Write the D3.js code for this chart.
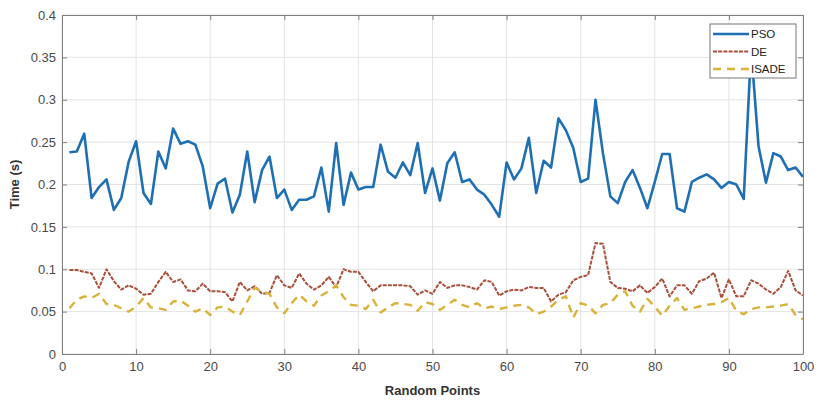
<!DOCTYPE html>
<html>
<head>
<meta charset="utf-8">
<script src="https://cdn.jsdelivr.net/npm/d3@7"></script>
<style>
  body { margin: 0; background: #fff; }
  svg { display: block; font-family: "Liberation Sans", Arial, sans-serif; }
</style>
</head>
<body>
<svg></svg>
<script>
// data (x = 1..100)
var pso = [0.238,0.239,0.260,0.184,0.197,0.206,0.170,0.184,0.227,0.251,
  0.190,0.177,0.239,0.219,0.266,0.248,0.251,0.247,0.221,0.172,
  0.201,0.207,0.167,0.188,0.239,0.179,0.217,0.233,0.184,0.194,
  0.170,0.182,0.182,0.186,0.220,0.168,0.249,0.176,0.214,0.194,
  0.197,0.197,0.247,0.215,0.208,0.226,0.211,0.249,0.190,0.219,
  0.181,0.225,0.238,0.203,0.206,0.194,0.188,0.176,0.162,0.226,
  0.206,0.219,0.255,0.190,0.228,0.220,0.278,0.264,0.243,0.203,
  0.207,0.300,0.237,0.186,0.178,0.203,0.217,0.196,0.172,0.203,
  0.236,0.236,0.172,0.168,0.203,0.208,0.212,0.206,0.196,0.203,
  0.200,0.183,0.360,0.245,0.202,0.237,0.233,0.217,0.220,0.209];

var de = [0.099,0.099,0.097,0.095,0.078,0.100,0.086,0.076,0.081,0.077,
  0.070,0.071,0.085,0.097,0.085,0.088,0.075,0.074,0.083,0.074,
  0.074,0.073,0.062,0.085,0.075,0.080,0.071,0.072,0.093,0.081,
  0.078,0.095,0.083,0.076,0.081,0.091,0.079,0.100,0.097,0.097,
  0.085,0.074,0.081,0.081,0.081,0.081,0.080,0.070,0.075,0.071,
  0.085,0.078,0.081,0.081,0.079,0.076,0.087,0.085,0.069,0.074,
  0.076,0.075,0.079,0.078,0.078,0.062,0.070,0.073,0.087,0.091,
  0.093,0.131,0.130,0.085,0.078,0.077,0.074,0.081,0.072,0.079,
  0.089,0.068,0.081,0.081,0.071,0.086,0.089,0.096,0.066,0.088,
  0.068,0.068,0.087,0.083,0.076,0.071,0.079,0.098,0.075,0.069];

var isade = [0.054,0.064,0.068,0.066,0.071,0.059,0.058,0.054,0.050,0.056,
  0.066,0.055,0.054,0.052,0.062,0.063,0.057,0.050,0.054,0.046,
  0.055,0.056,0.050,0.046,0.062,0.078,0.074,0.071,0.055,0.048,
  0.060,0.070,0.062,0.057,0.069,0.074,0.081,0.067,0.058,0.057,
  0.053,0.064,0.049,0.055,0.060,0.059,0.058,0.051,0.061,0.059,
  0.052,0.058,0.064,0.058,0.055,0.060,0.054,0.056,0.053,0.055,
  0.057,0.058,0.055,0.047,0.050,0.056,0.064,0.068,0.043,0.060,
  0.057,0.048,0.058,0.060,0.070,0.074,0.057,0.050,0.065,0.056,
  0.045,0.057,0.066,0.052,0.054,0.056,0.058,0.059,0.061,0.066,
  0.051,0.047,0.053,0.055,0.055,0.056,0.057,0.059,0.046,0.041];

var xTicks = [0,10,20,30,40,50,60,70,80,90,100];
var yTicks = [0,0.05,0.1,0.15,0.2,0.25,0.3,0.35,0.4];

var series = [
  {name: "PSO", values: pso, color: "#1f6fb5", width: 2.6, dash: null},
  {name: "DE", values: de, color: "#a9503a", width: 2, dash: "4,1.2"},
  {name: "ISADE", values: isade, color: "#d9b23a", width: 2.4, dash: "8,6"}
];

var svg = d3.select("svg")
    .attr("width", 818)
    .attr("height", 403);

var mLeft = 62, mRight = 803, mTop = 15, mBottom = 354;

var x = d3.scaleLinear().domain([0, 100]).range([mLeft, mRight]);
var y = d3.scaleLinear().domain([0, 0.4]).range([mBottom, mTop]);

// grid
var grid = svg.append("g");
grid.selectAll("line.gx")
    .data(xTicks)
    .enter()
    .append("line")
    .attr("x1", d => x(d)).attr("x2", d => x(d))
    .attr("y1", mTop).attr("y2", mBottom)
    .attr("stroke", "#e3e3e3").attr("stroke-width", 1);
grid.selectAll("line.gy")
    .data(yTicks)
    .enter()
    .append("line")
    .attr("x1", mLeft).attr("x2", mRight)
    .attr("y1", d => y(d)).attr("y2", d => y(d))
    .attr("stroke", "#e3e3e3").attr("stroke-width", 1);

// lines
var line = d3.line()
    .x((d, i) => x(i + 1))
    .y(d => y(d));

svg.append("g")
    .selectAll("path")
    .data(series)
    .enter()
    .append("path")
    .attr("d", d => line(d.values))
    .attr("fill", "none")
    .attr("stroke", d => d.color)
    .attr("stroke-width", d => d.width)
    .attr("stroke-dasharray", d => d.dash)
    .attr("stroke-linejoin", "round");

// axes (MATLAB style: inward ticks, box on)
var axisColor = "#808080";
svg.append("g")
    .attr("transform", `translate(0,${mBottom})`)
    .call(d3.axisBottom(x).tickValues(xTicks).tickSizeInner(-5).tickSizeOuter(0).tickPadding(8));
svg.append("g")
    .attr("transform", `translate(${mLeft},0)`)
    .call(d3.axisLeft(y).tickValues(yTicks).tickSizeInner(-5).tickSizeOuter(0).tickPadding(6)
      .tickFormat(d => String(+d.toFixed(2))));
svg.append("g")
    .attr("transform", `translate(0,${mTop})`)
    .call(d3.axisTop(x).tickValues(xTicks).tickSizeInner(-5).tickSizeOuter(0).tickFormat(""));
svg.append("g")
    .attr("transform", `translate(${mRight},0)`)
    .call(d3.axisRight(y).tickValues(yTicks).tickSizeInner(-5).tickSizeOuter(0).tickFormat(""));

svg.selectAll(".domain").attr("stroke", axisColor);
svg.selectAll(".tick line").attr("stroke", axisColor);
svg.selectAll(".tick text")
    .attr("fill", "#4a4a4a")
    .attr("font-size", 13)
    .attr("font-family", "Liberation Sans, Arial, sans-serif");

// axis labels
svg.append("text")
    .attr("x", (mLeft + mRight) / 2)
    .attr("y", 395)
    .attr("text-anchor", "middle")
    .attr("font-size", 13)
    .attr("font-weight", "bold")
    .attr("fill", "#333")
    .text("Random Points");

svg.append("text")
    .attr("transform", "translate(19," + ((mTop + mBottom) / 2) + ") rotate(-90)")
    .attr("text-anchor", "middle")
    .attr("font-size", 13)
    .attr("font-weight", "bold")
    .attr("fill", "#333")
    .text("Time (s)");

// legend
var legend = svg.append("g").attr("transform", "translate(710,24)");
legend.append("rect")
    .attr("width", 86).attr("height", 54)
    .attr("fill", "#fff")
    .attr("stroke", "#777").attr("stroke-width", 1);
var item = legend.selectAll("g")
    .data(series)
    .enter()
    .append("g")
    .attr("transform", (d, i) => `translate(0,${10 + i * 17.5})`);
item.append("line")
    .attr("x1", 3).attr("x2", 39)
    .attr("stroke", d => d.color)
    .attr("stroke-width", d => d.width)
    .attr("stroke-dasharray", d => d.dash);
item.append("text")
    .attr("x", 41)
    .attr("dy", 4)
    .attr("font-size", 11.5)
    .attr("fill", "#222")
    .text(d => d.name);
</script>
</body>
</html>
